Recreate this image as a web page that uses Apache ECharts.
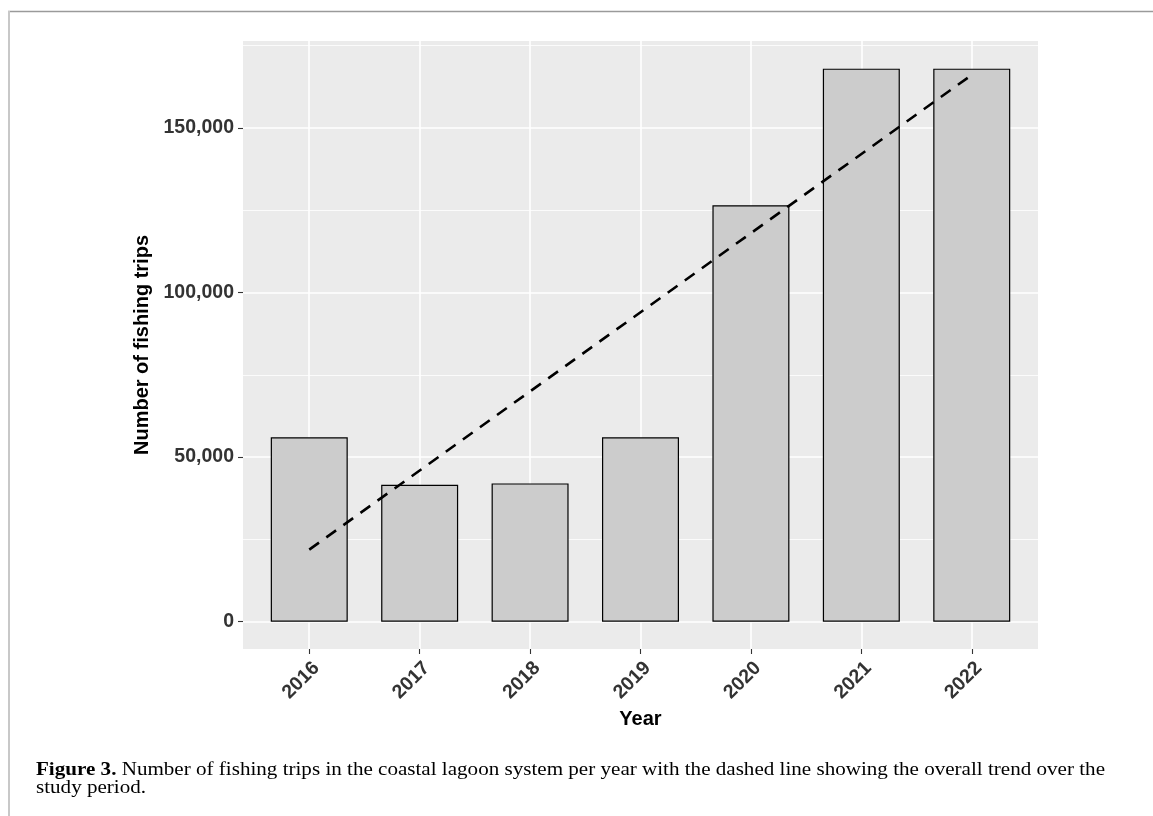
<!DOCTYPE html>
<html>
<head>
<meta charset="utf-8">
<script src="https://cdn.jsdelivr.net/npm/echarts@6/dist/echarts.min.js"></script>
<style>
html,body{margin:0;padding:0;background:#fff;}
#chart{width:1153px;height:816px;}
</style>
</head>
<body>
<div id="chart"></div>
<script>
// ---- data ----
const years = [2016, 2017, 2018, 2019, 2020, 2021, 2022];
const trips = [56000, 41600, 42000, 56000, 126500, 168000, 168000];
const trendYears = [2016, 2022];
const trendValues = [21900, 166100];
const yMajorTicks = [0, 50000, 100000, 150000];
const yMinorTicks = [25000, 75000, 125000, 175000];
const xTitle = 'Year';
const yTitle = 'Number of fishing trips';
const captionBold = 'Figure 3.';
const captionLine1 = ' Number of fishing trips in the coastal lagoon system per year with the dashed line showing the overall trend over the';
const captionLine2 = 'study period.';

const chart = echarts.init(document.getElementById('chart'), null, {renderer: 'canvas'});

// measure caption to stretch it to the reference width
const cv = document.createElement('canvas').getContext('2d');
const capFont = 18;
cv.font = 'bold ' + capFont + 'px "Liberation Serif"';
const wB = cv.measureText(captionBold).width;
cv.font = capFont + 'px "Liberation Serif"';
const wN = cv.measureText(captionLine1).width;
const capScale = 1069 / (wB + wN);

const axisTextColor = '#333333';
const labelFont = {fontFamily: 'Liberation Sans, Arial, sans-serif', fontWeight: 'bold', fontSize: 19.5, color: axisTextColor};

const option = {
  backgroundColor: '#ffffff',
  animation: false,
  grid: {
    left: 243, right: 115, top: 41, bottom: 167,
    show: true, backgroundColor: '#ebebeb', borderWidth: 0
  },
  xAxis: {
    type: 'value',
    min: 2015.4, max: 2022.6,
    axisLine: {show: false, onZero: false},
    axisTick: {show: true, customValues: years, length: 5, lineStyle: {color: '#333', width: 1.1}},
    axisLabel: Object.assign({customValues: years, rotate: 45, margin: 9, align: 'right', verticalAlign: 'top', formatter: v => String(v)}, labelFont),
    splitLine: {show: true, lineStyle: {color: '#ffffff', width: 1.6}},
    name: xTitle, nameLocation: 'middle', nameGap: 58,
    nameTextStyle: {fontFamily: 'Liberation Sans, Arial, sans-serif', fontWeight: 'bold', fontSize: 20, color: '#000'}
  },
  yAxis: [{
    type: 'value',
    min: -8300, max: 176400,
    axisLine: {show: false, onZero: false},
    axisTick: {show: true, customValues: yMajorTicks, length: 5, lineStyle: {color: '#333', width: 1.1}},
    axisLabel: Object.assign({customValues: yMajorTicks, margin: 9}, labelFont),
    splitLine: {show: true, lineStyle: {color: '#ffffff', width: 1.6}},
    name: yTitle, nameLocation: 'middle', nameGap: 84, nameRotate: 90,
    nameTextStyle: {fontFamily: 'Liberation Sans, Arial, sans-serif', fontWeight: 'bold', fontSize: 20, color: '#000'},
    z: 1
  }, {
    type: 'value',
    position: 'left',
    min: -8300, max: 176400,
    axisLine: {show: false, onZero: false},
    axisTick: {show: false, customValues: yMinorTicks},
    axisLabel: {show: false, customValues: yMinorTicks},
    splitLine: {show: true, lineStyle: {color: '#ffffff', width: 0.8}},
    z: 0
  }],
  series: [{
    type: 'bar',
    yAxisIndex: 0,
    data: years.map((y, i) => [y, trips[i]]),
    barWidth: 77,
    itemStyle: {color: '#cccccc', borderColor: '#000000', borderWidth: 1.2},
    z: 2
  }, {
    type: 'line',
    yAxisIndex: 0,
    data: trendYears.map((y, i) => [y, trendValues[i]]),
    symbol: 'none',
    lineStyle: {color: '#000000', width: 2.6, type: [12, 9]},
    z: 3
  }],
  graphic: [
    {type: 'line', shape: {x1: 8, y1: 11.5, x2: 1153, y2: 11.5}, style: {stroke: '#9a9a9a', lineWidth: 1.5}},
    {type: 'line', shape: {x1: 9, y1: 11, x2: 9, y2: 816}, style: {stroke: '#c8c8c8', lineWidth: 2}},
    {
      type: 'text', left: 36, top: 761, scaleX: capScale,
      style: {
        text: '{b|' + captionBold + '}{n|' + captionLine1 + '}\n{n|' + captionLine2 + '}',
        rich: {
          b: {fontFamily: 'Liberation Serif', fontWeight: 'bold', fontSize: capFont, fill: '#000', lineHeight: 18.5},
          n: {fontFamily: 'Liberation Serif', fontSize: capFont, fill: '#000', lineHeight: 18.5}
        }
      }
    }
  ]
};
chart.setOption(option);
</script>
</body>
</html>
